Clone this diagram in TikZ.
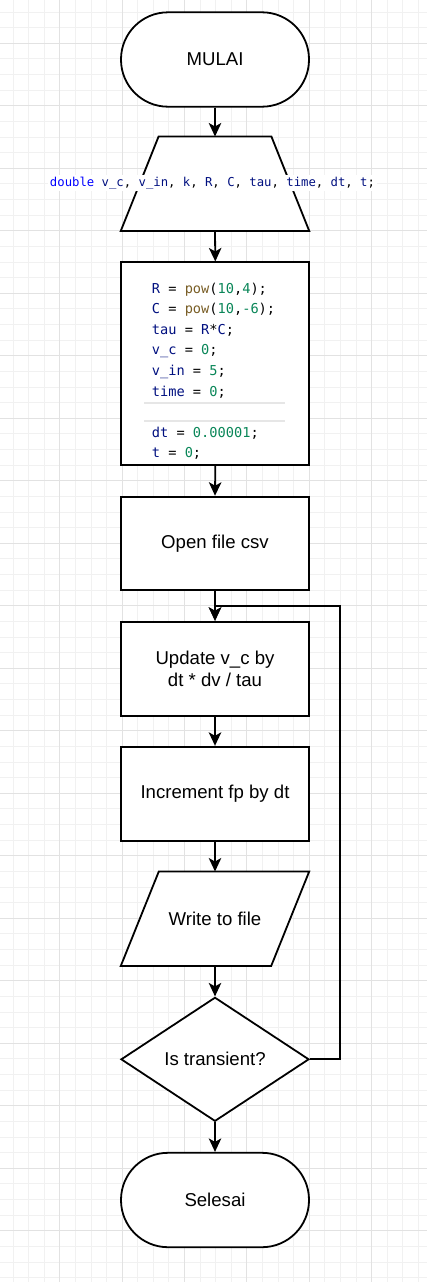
\documentclass[tikz,border=0pt]{standalone}
\usepackage{fontspec}
\setmainfont{Liberation Sans}
\newfontfamily\codefont{DejaVu Sans Mono}
\usetikzlibrary{shapes.geometric,arrows.meta}
\definecolor{gminor}{HTML}{F1F1F1}
\definecolor{gmajor}{HTML}{E2E2E2}
\definecolor{cvar}{HTML}{001080}
\definecolor{ckw}{HTML}{0000FF}
\definecolor{cfn}{HTML}{795E26}
\definecolor{cnum}{HTML}{098658}
\definecolor{csep}{HTML}{E6E6E6}
\newcommand\cVar[1]{\textcolor{cvar}{#1}}
\newcommand\cKw[1]{\textcolor{ckw}{#1}}
\newcommand\cFn[1]{\textcolor{cfn}{#1}}
\newcommand\cNum[1]{\textcolor{cnum}{#1}}
\begin{document}
\begin{tikzpicture}[x=1pt,y=-1pt,
  lw/.style={line width=1.8pt},
  shp/.style={lw, draw=black, fill=white, minimum width=188pt, inner sep=0pt,
    font=\fontsize{18.6}{22.3}\selectfont, align=center},
  term/.style={shp, rectangle, rounded corners=47pt, minimum height=94.4pt},
  proc/.style={shp, rectangle, minimum height=94pt},
  ghost/.style={rectangle, minimum width=188pt, minimum height=94pt, inner sep=0pt},
  outline/.style={lw, draw=black, fill=white, line join=miter},
  codeline/.style={anchor=base west, inner sep=0pt, font=\codefont\fontsize{13.65}{16}\selectfont},
  arr/.style={lw, -{Stealth[length=13.5pt,width=12.5pt,inset=3.5pt]}}]
\useasboundingbox (0,0) rectangle (427,1282);
\fill[white] (0,0) rectangle (427,1282);
% grid
\foreach \k in {1,...,27} {\pgfmathsetmacro\xx{-2.5+15.59*\k}
  \draw[gminor, line width=1pt] (\xx,0) -- (\xx,1282);}
\foreach \k in {-2,...,79} {\pgfmathsetmacro\yy{43.3+15.625*\k}
  \draw[gminor, line width=1pt] (0,\yy) -- (427,\yy);}
\foreach \k in {1,...,6} {\pgfmathsetmacro\xx{-2.5+62.36*\k}
  \draw[gmajor, line width=1pt] (\xx,0) -- (\xx,1282);}
\foreach \k in {0,...,19} {\pgfmathsetmacro\yy{43.3+62.5*\k}
  \draw[gmajor, line width=1pt] (0,\yy) -- (427,\yy);}

% nodes
\node[term] (start) at (215,59.5) {MULAI};

\node[ghost] (trap) at (215,183.7) {};
\draw[outline] (trap.south west) -- ([xshift=37.8pt]trap.north west) -- ([xshift=-37.8pt]trap.north east) -- (trap.south east) -- cycle;
\node[fill=white, inner sep=2pt, font=\codefont\fontsize{12.27}{14}\selectfont] (decl) at (212.5,183.3)
  {\cKw{double} \cVar{v\_c}, \cVar{v\_in}, \cVar{k}, \cVar{R}, \cVar{C}, \cVar{tau}, \cVar{time}, \cVar{dt}, \cVar{t};};

\node[shp, rectangle, minimum height=202.7pt] (init) at (215.3,363.7) {};
\node[codeline] (l1) at (151.7,293.1) {\cVar{R} = \cFn{pow}(\cNum{10},\cNum{4});};
\node[codeline] (l2) at (151.7,313.7) {\cVar{C} = \cFn{pow}(\cNum{10},\cNum{-6});};
\node[codeline] (l3) at (151.7,334.3) {\cVar{tau} = \cVar{R}*\cVar{C};};
\node[codeline] (l4) at (151.7,354.9) {\cVar{v\_c} = \cNum{0};};
\node[codeline] (l5) at (151.7,375.5) {\cVar{v\_in} = \cNum{5};};
\node[codeline] (l6) at (151.7,396.1) {\cVar{time} = \cNum{0};};
\fill[csep] (144,401.5) rectangle (285,404);
\fill[csep] (144,419.5) rectangle (285,422);
\node[codeline] (l7) at (151.7,437.1) {\cVar{dt} = \cNum{0.00001};};
\node[codeline] (l8) at (151.7,457.7) {\cVar{t} = \cNum{0};};

\node[proc, minimum height=93.3pt] (open) at (215,543.3) {Open file csv};
\node[proc] (upd) at (215,668.7) {Update v\_c by\\dt * dv / tau};
\node[proc] (inc) at (215,793.7) {Increment fp by dt};

\node[ghost] (write) at (215,918.7) {};
\draw[outline] (write.south west) -- ([xshift=38pt]write.north west) -- (write.north east) -- ([xshift=-38pt]write.south east) -- cycle;
\node[inner sep=0pt, font=\fontsize{18.6}{22.3}\selectfont] (wtxt) at (215,918.7) {Write to file};

\node[shp, diamond, minimum width=188pt, minimum height=124pt, aspect=1.516] (dia) at (215,1059.3) {Is transient?};
\node[term] (stop) at (215,1200) {Selesai};

\coordinate (lp) at (340,605.7);

% connectors
\draw[arr] (start.south) -- (trap.north);
\draw[arr] (trap.south) -- (init.north);
\draw[arr] (init.south) -- (open.north);
\draw[arr] (open.south) -- (upd.north);
\draw[arr] (upd.south) -- (inc.north);
\draw[arr] (inc.south) -- (write.north);
\draw[arr] (write.south) -- (dia.north);
\draw[arr] (dia.south) -- (stop.north);
\draw[arr, line join=miter] (dia.east) -| (lp) -| (upd.north);
\end{tikzpicture}
\end{document}
